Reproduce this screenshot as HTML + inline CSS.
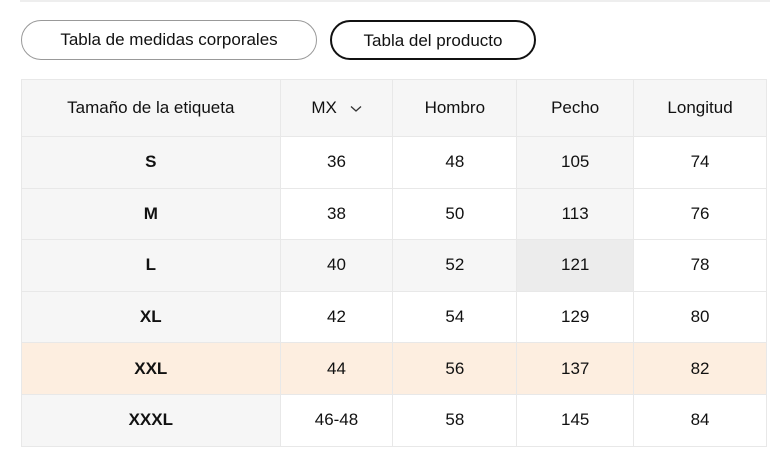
<!DOCTYPE html>
<html><head><meta charset="utf-8"><style>
*{margin:0;padding:0;box-sizing:border-box}
body{width:780px;height:472px;background:#fff;font-family:"Liberation Sans",sans-serif;color:#111;position:relative;overflow:hidden}
.top{position:absolute;left:20px;top:0;width:750px;height:2px;background:#eee}
.btn{position:absolute;top:20px;height:40px;border-radius:20px;font-size:17px;line-height:38px;text-align:center}
table{position:absolute;left:21px;top:79px;width:746px;border-collapse:collapse;font-size:17px;text-align:center}
td,th{border:1px solid #e8e8e8;font-weight:normal}
th{height:57px;background:#f6f6f6}
td{height:51.6px}
td:first-child{background:#f6f6f6;font-weight:bold}
.g{background:#f6f6f6}.d{background:#ececec}
tr.o td{background:#fdeee0}
</style></head><body>
<div class="top"></div>
<div class="btn" style="left:21px;width:296px;border:1px solid #999">Tabla de medidas corporales</div>
<div class="btn" style="left:330px;width:206px;border:2px solid #111">Tabla del producto</div>
<table>
<colgroup><col style="width:259px"><col style="width:113px"><col style="width:124px"><col style="width:117px"><col style="width:133px"></colgroup>
<tr><th>Tamaño de la etiqueta</th><th>MX <svg width="12" height="8" style="margin-left:8px;vertical-align:middle"><path d="M1 1.5 L6 6 L11 1.5" fill="none" stroke="#333" stroke-width="1.3"/></svg></th><th>Hombro</th><th>Pecho</th><th>Longitud</th></tr>
<tr><td>S</td><td>36</td><td>48</td><td class="g">105</td><td>74</td></tr>
<tr><td>M</td><td>38</td><td>50</td><td class="g">113</td><td>76</td></tr>
<tr><td>L</td><td class="g">40</td><td class="g">52</td><td class="d">121</td><td>78</td></tr>
<tr><td>XL</td><td>42</td><td>54</td><td>129</td><td>80</td></tr>
<tr class="o"><td>XXL</td><td>44</td><td>56</td><td>137</td><td>82</td></tr>
<tr><td>XXXL</td><td>46-48</td><td>58</td><td>145</td><td>84</td></tr>
</table>
</body></html>
